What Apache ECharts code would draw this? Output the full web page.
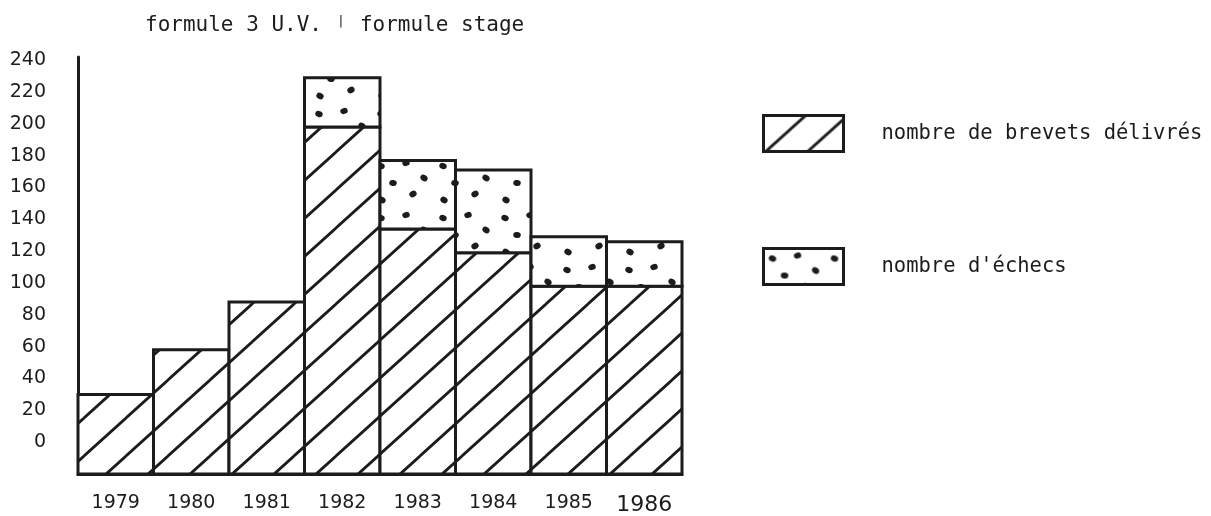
<!DOCTYPE html>
<html>
<head>
<meta charset="utf-8">
<script src="https://cdn.jsdelivr.net/npm/echarts@6/dist/echarts.min.js"></script>
<style>
  html, body { margin: 0; padding: 0; background: #fff; }
  #chart { width: 1211px; height: 516px; }
</style>
</head>
<body>
<div id="chart"></div>
<script>
// ---- data ----
const years = ['1979', '1980', '1981', '1982', '1983', '1984', '1985', '1986'];
const brevets = [30, 58, 88, 198, 134, 119, 98, 98];
const echecs = [null, null, null, 31, 43, 52, 31, 28];
const yTickLabels = [0, 20, 40, 60, 80, 100, 120, 140, 160, 180, 200, 220, 240];
const seriesNames = ['nombre de brevets délivrés', "nombre d'échecs"];
const titleParts = ['formule 3 U.V.', 'formule stage'];

const INK = '#1c1c1c';
const MONO = '"DejaVu Sans Mono", monospace';
const SANS = '"DejaVu Sans", sans-serif';
const Y_MIN = -20, Y_MAX = 242;

function hatchPattern() {
  const w = 42, h = 38;
  const c = document.createElement('canvas');
  c.width = w; c.height = h;
  const g = c.getContext('2d');
  g.fillStyle = '#fff'; g.fillRect(0, 0, w, h);
  g.strokeStyle = INK; g.lineWidth = 2.8; g.lineCap = 'square';
  for (const off of [-w, 0, w]) {
    g.beginPath(); g.moveTo(off, h); g.lineTo(off + w, 0); g.stroke();
  }
  return c;
}
function dotPattern() {
  const w = 62, h = 52;
  const c = document.createElement('canvas');
  c.width = w; c.height = h;
  const g = c.getContext('2d');
  g.fillStyle = '#fff'; g.fillRect(0, 0, w, h);
  g.fillStyle = INK;
  const dots = [[9, 10, 0.4], [34, 7, -0.3], [52, 22, 0.6], [21, 27, 0.2], [41, 38, -0.5], [10, 44, 0.5]];
  for (const [x, y, r] of dots) {
    g.beginPath(); g.ellipse(x, y, 3.8, 3.0, r, 0, Math.PI * 2); g.fill();
  }
  return c;
}
const HATCH = { image: hatchPattern(), repeat: 'repeat' };
const DOTS = { image: dotPattern(), repeat: 'repeat' };

// each datum: [categoryIndex, topValue, bottomValue]
function makeRender(fill) {
  return function (params, api) {
    const i = api.value(0);
    const pTop = api.coord([i, api.value(1)]);
    const pBot = api.coord([i, api.value(2)]);
    const w = api.size([1, 0])[0];
    return {
      type: 'rect',
      shape: { x: pBot[0] - w / 2, y: pTop[1], width: w, height: pBot[1] - pTop[1] },
      style: { fill: fill, stroke: INK, lineWidth: 3 }
    };
  };
}

const brevetsData = brevets.map((v, i) => [i, v, Y_MIN]);
const echecsData = echecs.map((v, i) => v == null ? null : [i, brevets[i] + v, brevets[i]]).filter(d => d);

const chart = echarts.init(document.getElementById('chart'), null, { renderer: 'canvas' });
chart.setOption({
  backgroundColor: '#fff',
  animation: false,
  title: {
    text: '{a|' + titleParts[0] + ' }{s||}{a| ' + titleParts[1] + '}',
    left: 140, top: 10,
    textStyle: {
      fontWeight: 'normal',
      rich: {
        a: { fontFamily: MONO, fontSize: 21, fontWeight: 'normal', color: INK },
        s: { fontFamily: MONO, fontSize: 13, fontWeight: 'normal', color: INK, width: 12.6, align: 'center', verticalAlign: 'top', padding: [0, 0, 8, 0] }
      }
    }
  },
  legend: {
    orient: 'vertical',
    left: 757, top: 109,
    itemWidth: 80, itemHeight: 36, itemGap: 94,
    icon: 'rect',
    selectedMode: false,
    itemStyle: { borderColor: INK, borderWidth: 3 },
    textStyle: { fontFamily: MONO, fontSize: 20.5, color: INK, padding: [0, 0, 0, 33] },
    data: seriesNames
  },
  grid: { left: 78, right: 529, top: 57, bottom: 40, containLabel: false },
  xAxis: {
    type: 'category',
    data: years,
    axisLine: { onZero: false, lineStyle: { color: INK, width: 3 } },
    axisTick: { show: false },
    axisLabel: {
      interval: 0,
      margin: 20, fontFamily: SANS, fontSize: 19, color: INK,
      formatter: v => v === '1986' ? '{b|' + v + '}' : v,
      rich: { b: { fontFamily: SANS, fontSize: 22, color: INK, padding: [0, 0, 3, 0] } }
    }
  },
  yAxis: {
    type: 'value',
    min: Y_MIN, max: Y_MAX, interval: 20,
    axisLine: { show: true, lineStyle: { color: INK, width: 3 } },
    axisTick: { show: false },
    splitLine: { show: false },
    axisLabel: {
      margin: 32, fontFamily: SANS, fontSize: 19, color: INK,
      formatter: v => yTickLabels.indexOf(v) >= 0 ? String(v) : ''
    }
  },
  series: [
    {
      name: seriesNames[0], type: 'custom',
      renderItem: makeRender(HATCH),
      encode: { x: 0, y: [1, 2] },
      data: brevetsData,
      itemStyle: { color: HATCH, borderColor: INK, borderWidth: 3 }
    },
    {
      name: seriesNames[1], type: 'custom',
      renderItem: makeRender(DOTS),
      encode: { x: 0, y: [1, 2] },
      data: echecsData,
      itemStyle: { color: DOTS, borderColor: INK, borderWidth: 3 }
    }
  ]
});
</script>
</body>
</html>
